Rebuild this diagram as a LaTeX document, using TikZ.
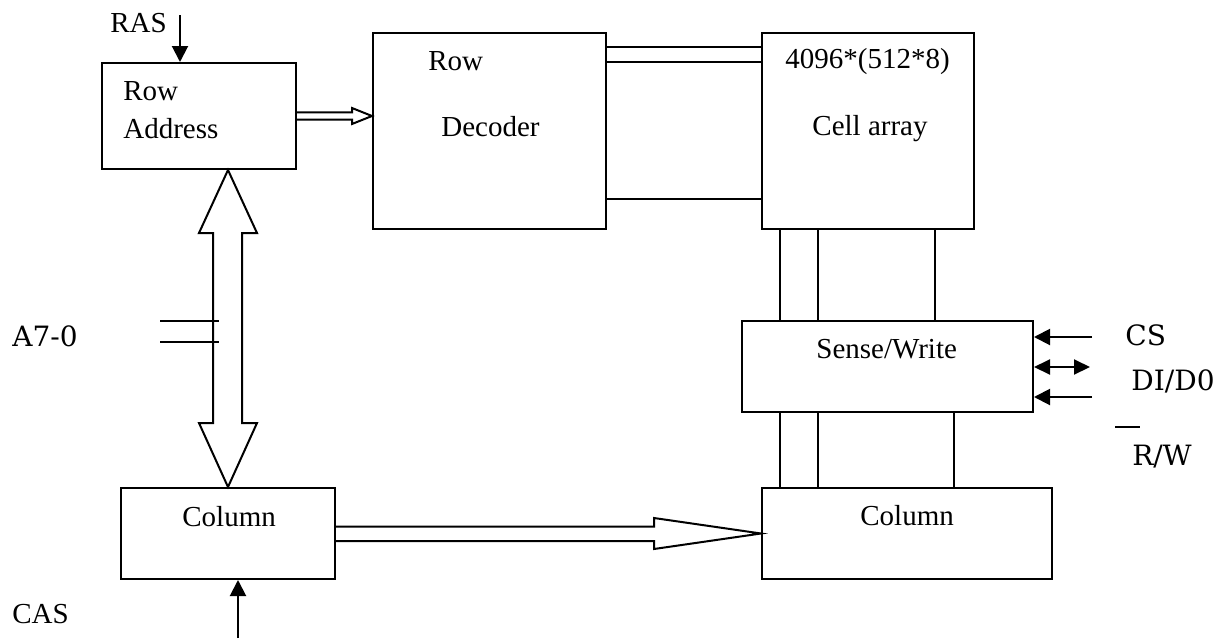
\documentclass[tikz,border=0pt]{standalone}
\usepackage{fontspec}
\setmainfont{Liberation Serif}
\IfFontExistsTF{DejaVu Serif}
  {\newfontfamily\schfont{DejaVu Serif}\newcommand\schsize{\fontsize{14}{17}\selectfont}}
  {\newfontfamily\schfont{Latin Modern Roman}\newcommand\schsize{\fontsize{14.5}{17}\selectfont}}
\usetikzlibrary{arrows.meta,calc}
\begin{document}
\begin{tikzpicture}[x=0.5pt,y=-0.5pt,
  box/.style={draw,line width=1pt,inner sep=0pt},
  lbl/.style={anchor=base west,inner sep=0pt,font=\fontsize{14.5}{17}\selectfont},
  slbl/.style={anchor=base west,inner sep=0pt,font=\schfont\schsize},
  wire/.style={line width=1pt},
  sig/.style={line width=1pt,-{Triangle[length=8pt,width=8pt]}},
  sigboth/.style={line width=1pt,{Triangle[length=8pt,width=7.5pt]}-{Triangle[length=8pt,width=7.5pt]}},
  hollow/.style={line width=1pt,fill=white,line join=miter}]
\useasboundingbox (0,0) rectangle (1222,638);

% boxes
\node[box,minimum width=97pt,minimum height=53pt] (ra) at (199,116) {};
\node[box,minimum width=116.5pt,minimum height=98pt] (dec) at (489.5,131) {};
\node[box,minimum width=106pt,minimum height=98pt] (cell) at (868,131) {};
\node[box,minimum width=145.5pt,minimum height=45.5pt] (sw) at (887.5,366.5) {};
\node[box,minimum width=107pt,minimum height=45.5pt] (colL) at (228,533.5) {};
\node[box,minimum width=145pt,minimum height=45.5pt] (colR) at (907,533.5) {};

% texts
\node[lbl] (tras) at (110,32) {RAS};
\node[lbl] (trow1) at (123,100) {Row};
\node[lbl] (taddr) at (123,138) {Address};
\node[lbl] (trow2) at (428,70) {Row};
\node[lbl] (tdec) at (441,136) {Decoder};
\node[lbl] (tsize) at (785,68) {4096*(512*8)};
\node[lbl] (tcell) at (812,135) {Cell array};
\node[lbl] (tsw) at (816,358) {Sense/Write};
\node[lbl] (tcolL) at (182,526) {Column};
\node[lbl] (tcolR) at (860,525) {Column};
\node[lbl] (tcas) at (12,623) {CAS};
\node[slbl] (ta) at (12,346) {A7-0};
\node[slbl] (tcs) at (1125,345) {CS};
\node[slbl] (tdi) at (1131,390) {DI/D0};
\node[slbl] (trw) at (1132,465) {R/W};
\coordinate (ovl) at (1115,427);
\draw[wire] (ovl) -- ($(ovl)+(25,0)$);

% decoder to cell array
\draw[wire] ($(dec.north east)+(0,15)$) -- ($(cell.north west)+(0,15)$);
\draw[wire] ($(dec.north east)+(0,30)$) -- ($(cell.north west)+(0,30)$);
\draw[wire] ($(dec.north east)+(0,167)$) -- ($(cell.north west)+(0,167)$);

% cell array to sense/write
\foreach \dx/\nm in {19/ca,57/cb,174/cc}{
  \coordinate (\nm) at ($(cell.south west)+(\dx,0)$);
  \draw[wire] (\nm) -- (\nm |- sw.north);
}
% sense/write to column
\foreach \dx/\nm in {19/da,57/db,193/dc}{
  \coordinate (\nm) at ($(colR.north west)+(\dx,0)$);
  \draw[wire] (\nm |- sw.south) -- (\nm);
}

% row address -> decoder hollow arrow
\coordinate (rt) at (dec.west |- ra.east);
\draw[hollow] (ra.east |- {$(rt)+(0,-3.7)$}) -- ($(rt)+(-20,-3.7)$) -- ($(rt)+(-20,-8)$) -- (rt)
  -- ($(rt)+(-20,8)$) -- ($(rt)+(-20,3.7)$) -- (ra.east |- {$(rt)+(0,3.7)$});

% column -> column hollow arrow
\coordinate (ct) at (colR.west);
\draw[hollow] (colL.east |- {$(ct)+(0,-7)$}) -- ($(ct)+(-107,-7)$) -- ($(ct)+(-107,-15.5)$) -- (ct)
  -- ($(ct)+(-107,15.5)$) -- ($(ct)+(-107,7.5)$) -- (colL.east |- {$(ct)+(0,7.5)$});

% address bus double hollow arrow
\coordinate (bt) at (colL.north |- ra.south);
\coordinate (bb) at (colL.north);
\draw[hollow] (bt) -- ($(bt)+(29,63)$) -- ($(bt)+(14,63)$) -- ($(bb)+(14,-64)$) -- ($(bb)+(29,-64)$)
  -- (bb) -- ($(bb)+(-29,-64)$) -- ($(bb)+(-15,-64)$) -- ($(bt)+(-15,63)$) -- ($(bt)+(-29,63)$) -- cycle;
\coordinate (tk1) at (160,321);
\coordinate (tk2) at (160,342);
\draw[wire] (tk1) -- ($(tk1)+(59,0)$);
\draw[wire] (tk2) -- ($(tk2)+(59,0)$);

% control signals
\coordinate (rasin) at (180,15);
\draw[sig] (rasin) -- (rasin |- ra.north);
\coordinate (casin) at (238,638);
\draw[sig] (casin) -- (casin |- colL.south);
\coordinate (csin) at (1092,337);
\draw[sig] (csin) -- (csin -| sw.east);
\coordinate (diin) at (1090,367);
\draw[sigboth] (sw.east |- diin) -- (diin);
\coordinate (rwin) at (1092,397);
\draw[sig] (rwin) -- (rwin -| sw.east);
\end{tikzpicture}
\end{document}
